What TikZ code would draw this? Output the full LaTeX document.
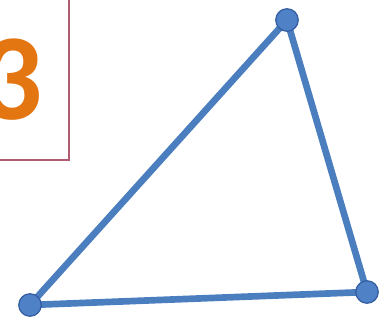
\documentclass[tikz,border=0pt]{standalone}
\usepackage{fontspec}
\setmainfont{Carlito}
\usetikzlibrary{positioning,backgrounds}
\definecolor{triEdge}{RGB}{74,126,190}
\definecolor{triDot}{RGB}{79,129,198}
\definecolor{triDotB}{RGB}{52,92,160}
\definecolor{numBox}{RGB}{176,92,112}
\definecolor{numTxt}{RGB}{228,118,18}

\begin{document}
\begin{tikzpicture}[
  x=0.02cm, y=-0.02cm,
  corner/.style={
    circle, minimum size=0.45cm, inner sep=0pt,
    fill=triDot, draw=triDotB, line width=0.7pt
  },
  edge/.style={triEdge, line width=3.8pt, line cap=round}
]
% Canvas
\useasboundingbox (0,0) rectangle (385,323);
\clip (0,0) rectangle (385,323);

% Number box, cut at the left edge
\draw[numBox, line width=1.3pt, fill=white] (-10,-10) rectangle (69,160);
\node[anchor=base east, inner sep=0pt, text=numTxt,
      font=\fontsize{70}{70}\selectfont\bfseries] (num) at (43,120) {3};

% Triangle corners
\node[corner] (pa) at (287,20) {};
\node[corner] (pb) at (30,305) {};
\node[corner] (pc) at (367,292) {};

% Triangle sides, behind the corners
\begin{scope}[on background layer]
\foreach \a/\b in {pa/pb,pb/pc,pc/pa}
  \draw[edge] (\a.center) -- (\b.center);
\end{scope}
\end{tikzpicture}
\end{document}
